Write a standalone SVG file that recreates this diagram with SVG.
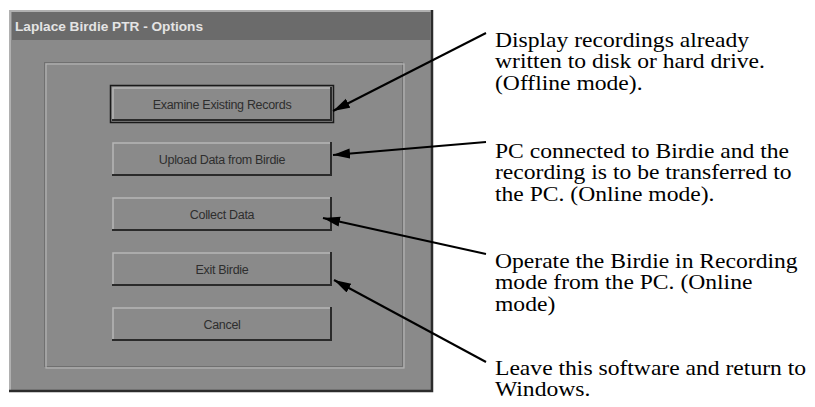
<svg xmlns="http://www.w3.org/2000/svg" width="815" height="407" viewBox="0 0 815 407">
<defs>
<style>
.win{fill:#8a8a8a}
.btn rect.face{fill:#8a8a8a}
.hl{stroke:#b6b6b6;stroke-width:1.5;fill:none}
.sh{stroke:#2a2a2a;stroke-width:2;fill:none}
.btxt{font-family:"Liberation Sans",Arial,sans-serif;font-size:12.5px;fill:#2e2e2e;text-anchor:middle;letter-spacing:-0.3px}
.note{font-family:"Liberation Serif","Times New Roman",serif;font-size:20px;fill:#000}
.conn{stroke:#000;stroke-width:2;fill:none;marker-end:url(#ah)}
</style>
<marker id="ah" markerUnits="userSpaceOnUse" markerWidth="18" markerHeight="12" refX="17" refY="5" orient="auto">
<path d="M0,0 L17,5 L0,10 z" fill="#000"/>
</marker>
</defs>
<rect width="815" height="407" fill="#fff"/>
<g id="window">
<rect class="win" x="9" y="10" width="424" height="382"/>
<path d="M10,391 V11 H432" stroke="#b0b0b0" stroke-width="2" fill="none"/>
<path d="M432,10 V391 H9" stroke="#2c2c2c" stroke-width="2.5" fill="none"/>
<rect x="12" y="12" width="418" height="28" fill="#6b6b6b"/>
<text x="15" y="31" font-family="'Liberation Sans',Arial,sans-serif" font-weight="bold" font-size="12" fill="#e4e4e4" textLength="188" lengthAdjust="spacingAndGlyphs">Laplace Birdie PTR - Options</text>
<rect x="44.5" y="62.5" width="358" height="304" fill="none" stroke="#707070" stroke-width="1"/>
<rect x="46" y="64" width="358" height="304" fill="none" stroke="#b4b4b4" stroke-width="1.2"/>
</g>
<g id="btn-examine" class="btn">
<rect x="110.5" y="85.5" width="223" height="37" fill="none" stroke="#1a1a1a" stroke-width="1.5"/>
<rect class="face" x="112" y="87" width="220" height="34"/>
<path class="hl" d="M113,120 V88 H331"/>
<path class="sh" d="M331,87 V120 H112"/>
<text class="btxt" x="222" y="108.5">Examine Existing Records</text>
</g>
<g id="btn-upload" class="btn">
<rect class="face" x="112" y="142" width="220" height="34"/>
<path class="hl" d="M113,175 V143 H331"/>
<path class="sh" d="M331,142 V175 H112"/>
<text class="btxt" x="222" y="163.5">Upload Data from Birdie</text>
</g>
<g id="btn-collect" class="btn">
<rect class="face" x="112" y="197" width="220" height="34"/>
<path class="hl" d="M113,230 V198 H331"/>
<path class="sh" d="M331,197 V230 H112"/>
<text class="btxt" x="222" y="218.5">Collect Data</text>
</g>
<g id="btn-exit" class="btn">
<rect class="face" x="112" y="252" width="220" height="34"/>
<path class="hl" d="M113,285 V253 H331"/>
<path class="sh" d="M331,252 V285 H112"/>
<text class="btxt" x="222" y="273.5">Exit Birdie</text>
</g>
<g id="btn-cancel" class="btn">
<rect class="face" x="112" y="307" width="220" height="34"/>
<path class="hl" d="M113,340 V308 H331"/>
<path class="sh" d="M331,307 V340 H112"/>
<text class="btxt" x="222" y="328.5">Cancel</text>
</g>
<g id="note-examine" transform="translate(495,0) scale(1.18,1)">
<text class="note" x="0" y="47">Display recordings already</text>
<text class="note" x="0" y="68.5">written to disk or hard drive.</text>
<text class="note" x="0" y="90">(Offline mode).</text>
</g>
<g id="note-upload" transform="translate(495,0) scale(1.18,1)">
<text class="note" x="0" y="158">PC connected to Birdie and the</text>
<text class="note" x="0" y="179.5">recording is to be transferred to</text>
<text class="note" x="0" y="201">the PC. (Online mode).</text>
</g>
<g id="note-collect" transform="translate(495,0) scale(1.18,1)">
<text class="note" x="0" y="268">Operate the Birdie in Recording</text>
<text class="note" x="0" y="289.5">mode from the PC. (Online</text>
<text class="note" x="0" y="311">mode)</text>
</g>
<g id="note-exit" transform="translate(495,0) scale(1.18,1)">
<text class="note" x="0" y="375">Leave this software and return to</text>
<text class="note" x="0" y="396.5">Windows.</text>
</g>
<g id="connectors">
<line class="conn" x1="486" y1="33" x2="333" y2="111"/>
<line class="conn" x1="486" y1="142" x2="333" y2="155"/>
<line class="conn" x1="486" y1="254" x2="323" y2="218"/>
<line class="conn" x1="486" y1="362" x2="334" y2="280"/>
</g>
</svg>
